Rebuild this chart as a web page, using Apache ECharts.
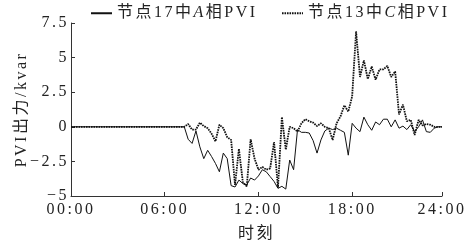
<!DOCTYPE html>
<html>
<head>
<meta charset="utf-8">
<style>
  html, body { margin: 0; padding: 0; background: #fff; }
  #chart { width: 470px; height: 242px; }
</style>
<script>
// the figure uses widely spaced lettering; give every 2d context a little letter spacing
(function () {
  var getCtx = HTMLCanvasElement.prototype.getContext;
  HTMLCanvasElement.prototype.getContext = function (type, attrs) {
    var ctx = getCtx.call(this, type, attrs);
    if (type === '2d' && ctx) ctx.letterSpacing = '2.5px';
    return ctx;
  };
})();
</script>
<script src="https://cdn.jsdelivr.net/npm/echarts@6/dist/echarts.min.js"></script>
</head>
<body>
<div id="chart"></div>
<script>
// 15-min slots, 00:00 .. 23:45
var slots = [];
for (var i = 0; i < 96; i++) {
  slots.push(String(Math.floor(i / 4)).padStart(2, '0') + ':' + String((i % 4) * 15).padStart(2, '0'));
}
var tickSlots = [0, 24, 48, 72, 95];
var tickLabels = ['00:00', '06:00', '12:00', '18:00', '24:00'];

var seriesNames = ['节点17中A相PVI', '节点13中C相PVI'];

// 节点17 A相 (solid)
var node17A = [
  0, 0, 0, 0, 0, 0, 0, 0, 0, 0,
  0, 0, 0, 0, 0, 0, 0, 0, 0, 0,
  0, 0, 0, 0, 0, 0, 0, 0, 0, 0,
  -0.9, -1.2, -0.3, -1.45, -2.3, -1.7, -2.15, -2.65, -3.25, -1.9,
  -2.3, -4.25, -4.35, -3.85, -4.1, -4.2, -3.7, -3.85, -3.55, -3.1,
  -3.25, -3.6, -3.95, -4.45, -4.3, -4.5, -2.4, -3.1, -0.2, -0.4,
  -0.4, -0.45, -1.0, -1.9, -0.95, -0.3, -0.1, -0.2, -0.1, -0.25,
  -0.4, -2.05, 0.25, -0.1, -0.35, 0.7, 0.15, -0.25, 0.35, 0.15,
  0.55, 0.55, 0.0, 0.5, -0.1, 0.05, -0.2, 0.15, -0.35, 0.0,
  0.5, -0.35, -0.4, -0.1, 0, 0
];

// 节点13 C相 (dotted)
var node13C = [
  0, 0, 0, 0, 0, 0, 0, 0, 0, 0,
  0, 0, 0, 0, 0, 0, 0, 0, 0, 0,
  0, 0, 0, 0, 0, 0, 0, 0, 0, 0,
  0.2, -0.2, -0.2, 0.3, 0.05, -0.1, -0.5, -1.05, 0.15, -0.1,
  -0.75, -0.95, -4.2, -1.6, -4.0, -4.3, -0.9, -2.3, -3.1, -2.9,
  -3.1, -3.0, -1.1, -4.4, 0.7, -1.65, 0.0, -0.1, -0.35, 0.25,
  0.55, 0.4, 0.3, 0.05, 0.25, 0.0, -0.1, -0.95, 0.25, 0.75,
  1.55, 1.1, 2.2, 6.9, 3.6, 4.8, 3.45, 4.35, 3.4, 4.15,
  4.15, 4.4, 3.6, 4.0, 0.9, 1.6, 0.4, 0.5, -0.6, 0.5,
  0.1, 0.2, 0.15, 0, 0, 0
];

var font = "'Liberation Serif', 'Noto Sans CJK SC', serif";
var ink = '#222';

var chart = echarts.init(document.getElementById('chart'), null, { renderer: 'canvas' });

function legendAt(name, left) {
  return {
    data: [name],
    left: left,
    top: 4,
    itemWidth: 21,
    itemHeight: 10,
    padding: 0,
    itemStyle: { opacity: 0 },
    textStyle: {
      fontFamily: font,
      fontSize: 16,
      color: ink,
      rich: { i: { fontFamily: font, fontSize: 16, fontStyle: 'italic', color: ink } }
    },
    formatter: function (n) {
      return n.replace(/([AC])相/, '{i|$1}相');
    }
  };
}

var option = {
  animation: false,
  backgroundColor: '#fff',
  legend: [legendAt(seriesNames[0], 90), legendAt(seriesNames[1], 281)],
  grid: { left: 71, right: 28, top: 23, bottom: 46, outerBoundsMode: 'none' },
  xAxis: {
    type: 'category',
    data: slots,
    boundaryGap: false,
    name: '时刻',
    nameLocation: 'middle',
    nameGap: 29,
    nameMoveOverlap: false,
    nameTextStyle: { fontFamily: font, fontSize: 16, color: ink },
    axisLine: { onZero: false, lineStyle: { color: '#333', width: 1 } },
    axisTick: {
      inside: true,
      length: 4,
      interval: function (idx) { return tickSlots.indexOf(idx) >= 0; },
      lineStyle: { color: '#333' }
    },
    axisLabel: {
      interval: function (idx) { return tickSlots.indexOf(idx) >= 0; },
      formatter: function (v, idx) { return tickLabels[tickSlots.indexOf(idx)]; },
      margin: 5,
      fontFamily: font,
      fontSize: 16,
      color: ink
    },
    splitLine: { show: false }
  },
  yAxis: {
    type: 'value',
    min: -5,
    max: 7.5,
    interval: 2.5,
    name: 'PVI出力/kvar',
    nameLocation: 'middle',
    nameGap: 40,
    nameMoveOverlap: false,
    nameTextStyle: { fontFamily: font, fontSize: 16, color: ink },
    axisLine: { show: true, lineStyle: { color: '#333', width: 1 } },
    axisTick: { show: true, inside: true, length: 4, lineStyle: { color: '#333' } },
    axisLabel: {
      margin: 2,
      fontFamily: font,
      fontSize: 16,
      color: ink,
      formatter: function (v) { return String(v).replace('-', '\u2212'); }
    },
    splitLine: { show: false }
  },
  series: [
    {
      name: seriesNames[0],
      type: 'line',
      data: node17A,
      symbol: 'none',
      lineStyle: { color: '#111', width: 1 },
      itemStyle: { color: '#111' }
    },
    {
      name: seriesNames[1],
      type: 'line',
      data: node13C,
      symbol: 'none',
      lineStyle: { color: '#111', width: 1.8, type: [1.6, 0.9] },
      itemStyle: { color: '#111' }
    }
  ]
};

chart.setOption(option);
</script>
</body>
</html>
